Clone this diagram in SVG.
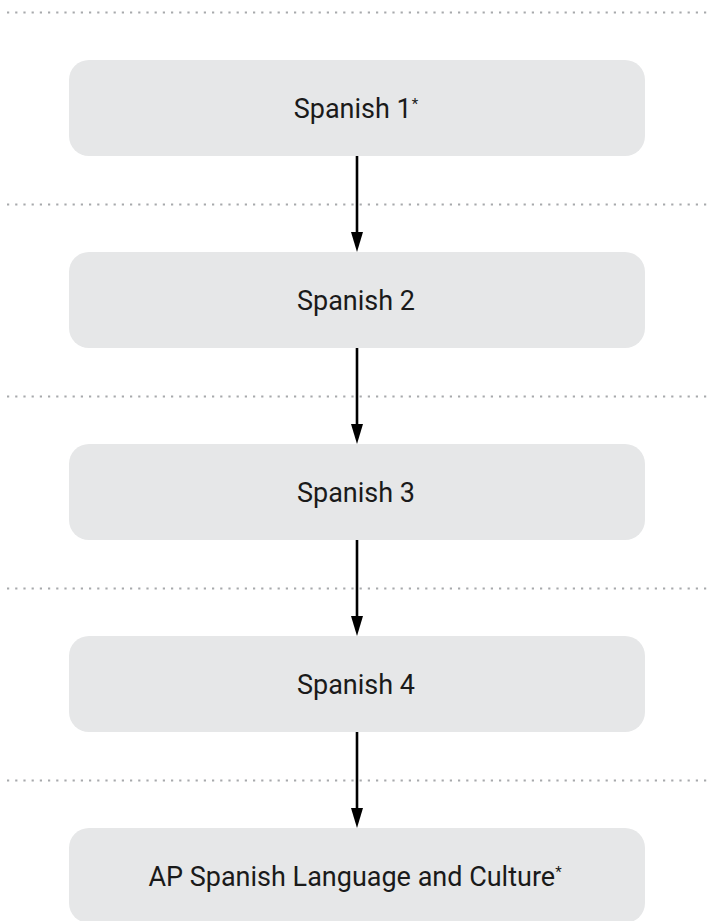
<svg xmlns="http://www.w3.org/2000/svg" width="707" height="921" viewBox="0 0 707 921">
<style>
.grid{stroke:#a7a9ac;stroke-width:2.2;stroke-dasharray:2.2 6;fill:none}
.box{fill:#e6e7e8}
.lbl{font-family:Roboto,"Liberation Sans",sans-serif;font-size:27px;fill:#1a1a1a;text-anchor:middle}
.sup{font-size:15px}
.conn{stroke:#000;stroke-width:2.6;fill:none}
</style>
<defs>
<marker id="ah" markerWidth="20" markerHeight="12" refX="0" refY="6" orient="auto" markerUnits="userSpaceOnUse" viewBox="0 0 20 12">
<polygon points="0,0 20,6 0,12" fill="#000"/>
</marker>
</defs>
<g id="grid-lines">
<line class="grid" x1="7" y1="12.5" x2="707" y2="12.5"/>
<line class="grid" x1="7" y1="204.5" x2="707" y2="204.5"/>
<line class="grid" x1="7" y1="396.5" x2="707" y2="396.5"/>
<line class="grid" x1="7" y1="588.5" x2="707" y2="588.5"/>
<line class="grid" x1="7" y1="780.5" x2="707" y2="780.5"/>
</g>
<g id="node1"><rect class="box" x="69" y="60" width="576" height="96" rx="20"/><text class="lbl" x="356" y="118">Spanish 1<tspan class="sup" dy="-9">*</tspan></text></g>
<g id="node2"><rect class="box" x="69" y="252" width="576" height="96" rx="20"/><text class="lbl" x="356" y="310">Spanish 2</text></g>
<g id="node3"><rect class="box" x="69" y="444" width="576" height="96" rx="20"/><text class="lbl" x="356" y="502">Spanish 3</text></g>
<g id="node4"><rect class="box" x="69" y="636" width="576" height="96" rx="20"/><text class="lbl" x="356" y="694">Spanish 4</text></g>
<g id="node5"><rect class="box" x="69" y="828" width="576" height="95" rx="20"/><text class="lbl" x="355" y="886">AP Spanish Language and Culture<tspan class="sup" dy="-9">*</tspan></text></g>
<g id="connectors">
<line class="conn" x1="357" y1="156" x2="357" y2="232" marker-end="url(#ah)"/>
<line class="conn" x1="357" y1="348" x2="357" y2="424" marker-end="url(#ah)"/>
<line class="conn" x1="357" y1="540" x2="357" y2="616" marker-end="url(#ah)"/>
<line class="conn" x1="357" y1="732" x2="357" y2="808" marker-end="url(#ah)"/>
</g>
</svg>
